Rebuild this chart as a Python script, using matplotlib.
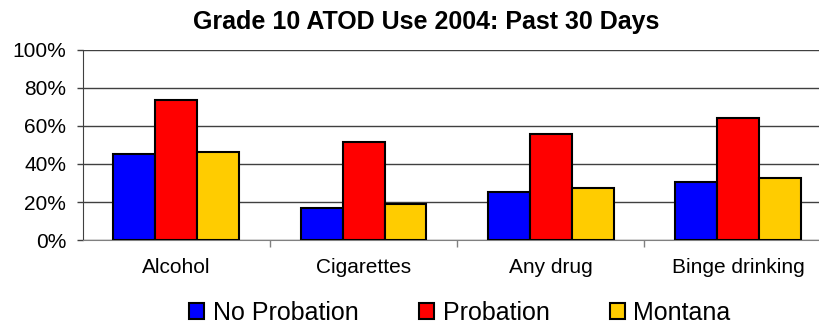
import numpy as np
import matplotlib.pyplot as plt
from matplotlib.ticker import PercentFormatter, FixedLocator

plt.rcParams['font.family'] = ['Liberation Sans', 'DejaVu Sans']

categories = ['Alcohol', 'Cigarettes', 'Any drug', 'Binge drinking']
no_probation = [45.3, 17.0, 25.3, 30.5]
probation = [73.5, 51.7, 55.8, 64.2]
montana = [46.2, 18.9, 27.5, 32.8]

series = [('No Probation', no_probation, '#0000FF'),
          ('Probation', probation, '#FF0000'),
          ('Montana', montana, '#FFCC00')]

fig = plt.figure(figsize=(8.2, 3.25), dpi=100)
ax = fig.add_axes([82.7 / 820, 85 / 325, 749 / 820, 190 / 325])

x = np.arange(len(categories))
width = 0.224
for i, (label, vals, color) in enumerate(series):
    ax.bar(x + (i - 1) * width, vals, width, color=color, edgecolor='black',
           linewidth=1.5, label=label, zorder=3)

ax.set_xlim(-0.5, len(categories) - 0.5)
ax.set_ylim(0, 100)
ax.set_yticks(np.arange(0, 101, 20))
ax.yaxis.set_major_formatter(PercentFormatter(decimals=0))
ax.yaxis.grid(True, color='#404040', linewidth=1.0, zorder=0)

ax.set_xticks(x)
ax.set_xticklabels(categories, fontsize=15)
ax.tick_params(axis='x', which='major', length=0, pad=13)
ax.xaxis.set_minor_locator(FixedLocator(np.arange(0.5, len(categories) - 0.5, 1)))
ax.tick_params(axis='x', which='minor', length=5, width=1, color='#808080', direction='out')
ax.tick_params(axis='y', labelsize=15, length=4, width=1, color='#404040', pad=8)

for side in ['top', 'right']:
    ax.spines[side].set_visible(False)
ax.spines['left'].set_color('#404040')
ax.spines['bottom'].set_color('#808080')

fig.text(426 / 820, 1 - 22 / 325, 'Grade 10 ATOD Use 2004: Past 30 Days',
         ha='center', va='center', fontsize=18, fontweight='bold')

fig.legend(loc='center', bbox_to_anchor=(460 / 820, 1 - 313 / 325), ncol=3,
           frameon=False, fontsize=18, handlelength=0.6, handleheight=0.6,
           handletextpad=0.35, columnspacing=2.4, borderaxespad=0)

plt.savefig('out.png', dpi=100)
